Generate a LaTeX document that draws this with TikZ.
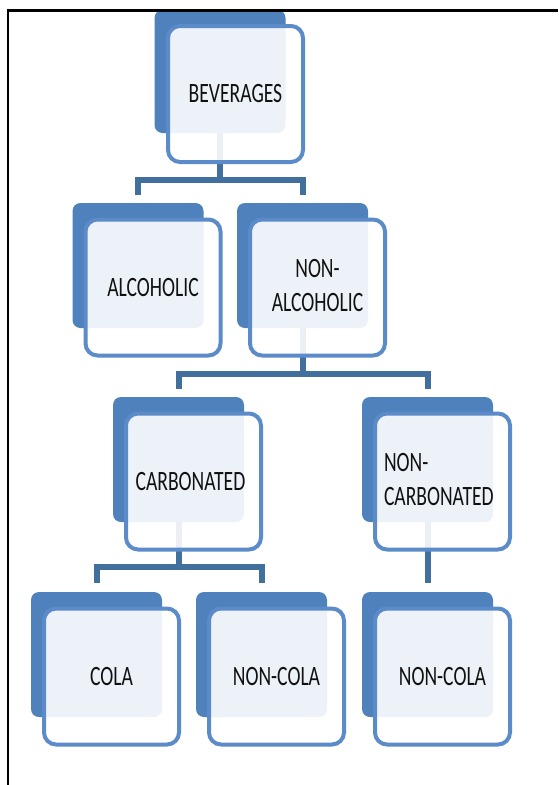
\documentclass[tikz,border=0pt]{standalone}
\usepackage{fontspec}
\setmainfont{Carlito}
\usepackage{graphicx}
\usetikzlibrary{calc}
\definecolor{backblue}{HTML}{4F81BD}
\definecolor{edgeblue}{HTML}{5B8BC9}
\definecolor{linkblue}{HTML}{41709F}
\definecolor{txt}{HTML}{111111}
\newcommand\sqz[1]{\scalebox{0.70}[1]{#1}}
\begin{document}
\begin{tikzpicture}[x=1pt,y=-1pt,
  backbox/.style={draw=none, fill=backblue, rounded corners=8pt, minimum width=131pt, minimum height=125pt, inner sep=0pt, outer sep=0pt},
  frontbox/.style={draw=edgeblue, line width=4pt, fill=white, fill opacity=0.9, text opacity=1, rounded corners=12pt, minimum width=135pt, minimum height=136pt, inner sep=0pt, outer sep=0pt, font=\fontsize{28}{34}\selectfont, text=txt},
  conn/.style={draw=linkblue, line width=6pt},
]
\useasboundingbox (0,0) rectangle (558,785);
\fill[white] (0,0) rectangle (558,785);

% back boxes
\node[backbox, minimum height=123pt] (bevB) at (220,71.5) {};
\node[backbox] (alcB) at (138,265.5) {};
\node[backbox] (nalB) at (302.5,265.5) {};
\node[backbox] (carbB) at (178.5,459.5) {};
\node[backbox] (ncarbB) at (427.5,459.5) {};
\node[backbox] (colaB) at (96.5,654.5) {};
\node[backbox] (ncolaB) at (261.5,654.5) {};
\node[backbox] (ncolbB) at (427.5,654.5) {};

% connectors
\path (bevB.south) ++(0,47) coordinate (j1);
\draw[conn] (bevB.south) -- (j1);
\draw[conn, shorten >=8pt] (j1) -| (alcB.north);
\draw[conn, shorten >=8pt] (j1) -| (nalB.north);

\path (nalB.south) ++(0,46) coordinate (j2);
\draw[conn] (nalB.south) -- (j2);
\draw[conn, shorten >=8pt] (j2) -| (carbB.north);
\draw[conn, shorten >=8pt] (j2) -| (ncarbB.north);

\path (carbB.south) ++(0,45) coordinate (j3);
\draw[conn] (carbB.south) -- (j3);
\draw[conn, shorten >=9pt] (j3) -| (colaB.north);
\draw[conn, shorten >=9pt] (j3) -| (ncolaB.north);

\draw[conn, shorten >=9pt] (ncarbB.south) -- (ncolbB.north);

% front boxes
\node[frontbox] (bev) at ($(bevB)+(15.5,22.5)$) {\sqz{BEVERAGES}};
\node[frontbox] (alc) at ($(alcB)+(15,22)$) {\sqz{ALCOHOLIC}};
\node[frontbox] (nal) at ($(nalB)+(15,22)$) {\sqz{\begin{tabular}{@{}c@{}}NON-\\ALCOHOLIC\end{tabular}}};
\node[frontbox] (carb) at ($(carbB)+(15,22)$) {\makebox[117pt][c]{\sqz{CARBONATED}\hspace{6pt}}};
\node[frontbox] (ncarb) at ($(ncarbB)+(15,22)$) {\makebox[117pt][l]{\sqz{\begin{tabular}{@{}l@{}}NON-\\CARBONATED\end{tabular}}}};
\node[frontbox] (cola) at ($(colaB)+(15,22)$) {\sqz{COLA}};
\node[frontbox] (ncola) at ($(ncolaB)+(15,22)$) {\sqz{NON-COLA}};
\node[frontbox] (ncolb) at ($(ncolbB)+(15,22)$) {\sqz{NON-COLA}};

% frame
\draw[line width=2.5pt, black] (8,785) -- (8,10.5) -- (558,10.5);
\end{tikzpicture}
\end{document}
